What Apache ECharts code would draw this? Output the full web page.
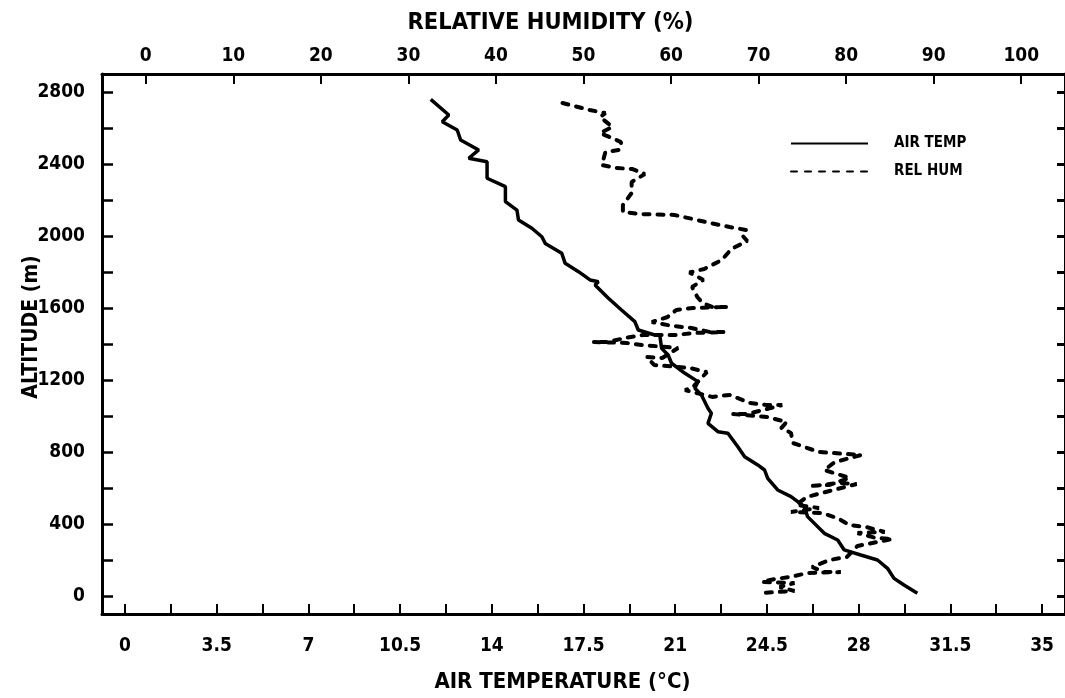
<!DOCTYPE html>
<html>
<head>
<meta charset="utf-8">
<script src="https://cdn.jsdelivr.net/npm/echarts@6/dist/echarts.min.js"></script>
<style>
html,body{margin:0;padding:0;background:#fff;}
#chart{width:1065px;height:698px;}
</style>
</head>
<body>
<div id="chart"></div>
<script>
// Air temperature profile (°C) vs altitude (m)
var tempValues = [11.67,12.36,12.11,12.68,12.81,13.50,13.12,13.82,13.82,14.52,14.52,14.96,15.02,15.53,15.91,16.04,16.67,16.80,17.31,17.75,18.07,17.94,18.45,18.95,19.46,19.59,20.22,20.41,20.48,20.73,20.86,21.37,21.87,21.75,22.00,22.25,22.38,22.25,22.63,23.01,23.39,23.65,24.15,24.41,24.53,24.91,25.42,25.93,26.05,26.69,27.20,27.45,28.08,28.72,29.10,29.35,29.73,30.24];
var tempAlt =    [2759,2672,2635,2589,2533,2478,2432,2413,2321,2274,2191,2144,2089,2043,1996,1959,1904,1848,1802,1756,1746,1728,1654,1589,1524,1478,1450,1450,1376,1339,1293,1237,1191,1154,1117,1043,1015,959,913,904,829,774,728,700,654,589,552,496,441,348,311,256,228,200,154,98,61,15];

// Relative humidity profile (%) vs altitude (m)
var rhValues = [47.6,50.7,52.5,51.9,53.3,51.9,54.3,54.1,52.5,52.1,53.8,55.6,57.0,55.5,55.5,54.5,54.5,56.4,60.4,64.5,66.7,68.6,68.2,68.7,66.9,65.8,63.8,62.1,63.7,62.4,63.0,63.6,64.7,66.5,62.5,60.6,59.6,57.8,60.2,62.3,64.4,66.1,62.5,60.6,56.8,54.7,52.8,51.1,54.9,56.8,60.8,59.0,57.2,58.1,62.1,64.1,62.5,61.6,64.7,66.7,69.0,70.9,72.7,68.7,67.0,71.0,73.2,72.6,73.7,73.9,76.9,81.7,78.7,77.5,80.4,78.1,75.8,77.3,79.2,81.2,77.2,75.5,74.3,76.9,73.7,77.2,79.0,80.4,82.3,84.4,81.3,83.4,85.3,81.3,80.1,78.1,76.1,77.5,79.4,75.6,73.7,71.8,70.4,74.1,72.4,74.1,70.4];
var rhAlt =    [2739,2700,2683,2661,2606,2572,2522,2478,2467,2394,2378,2372,2344,2300,2239,2172,2133,2122,2117,2072,2050,2033,2000,1972,1928,1867,1817,1797,1756,1717,1661,1628,1606,1606,1600,1589,1550,1522,1500,1489,1467,1467,1461,1450,1450,1433,1411,1411,1406,1394,1378,1322,1328,1283,1267,1244,1161,1144,1106,1117,1072,1061,1061,1011,1011,994,967,933,906,850,800,783,744,700,656,617,611,617,628,622,572,550,506,489,467,461,433,394,383,356,350,322,317,278,217,200,161,133,133,128,106,94,78,72,50,28,17];

// Tick positions / labels
var tempLabels = [0,3.5,7,10.5,14,17.5,21,24.5,28,31.5,35];
var tempTicks = [0,1.75,3.5,5.25,7,8.75,10.5,12.25,14,15.75,17.5,19.25,21,22.75,24.5,26.25,28,29.75,31.5,33.25,35];
var rhLabels = [0,10,20,30,40,50,60,70,80,90,100];
var altLabels = [0,400,800,1200,1600,2000,2400,2800];
var altTicks = [0,200,400,600,800,1000,1200,1400,1600,1800,2000,2200,2400,2600,2800];

function zip(a,b){var r=[];for(var i=0;i<a.length;i++){r.push([a[i],b[i]]);}return r;}
function plain(v){return String(v);}

var FONT = "'DejaVu Sans Condensed','Liberation Sans',Arial,sans-serif";
var lbl = {color:'#000',fontFamily:FONT,fontWeight:'bold',fontSize:19};
function ttl(size,pad){return {color:'#000',fontFamily:FONT,fontWeight:'bold',fontSize:size,padding:pad};}

var chart = echarts.init(document.getElementById('chart'),null,{renderer:'canvas'});
chart.setOption({
  animation:false,
  backgroundColor:'#fff',
  grid:{left:102,top:74,width:964,height:540,containLabel:false},
  legend:{
    orient:'vertical',left:785,top:131,itemWidth:77,itemHeight:16,itemGap:13,
    itemStyle:{opacity:0},
    textStyle:{color:'#000',fontFamily:FONT,fontWeight:'bold',fontSize:15,padding:[0,0,0,21]},
    data:['AIR TEMP','REL HUM']
  },
  xAxis:[{
    type:'value',position:'bottom',min:-0.875,max:35.875,
    name:'AIR TEMPERATURE (°C)',nameLocation:'middle',nameGap:57,nameMoveOverlap:false,
    nameTextStyle:ttl(22,[0,42,0,0]),
    axisLine:{show:true,onZero:false,lineStyle:{color:'#000',width:3}},
    axisTick:{show:true,inside:true,length:10,customValues:tempTicks,lineStyle:{color:'#000',width:2}},
    axisLabel:Object.assign({margin:23,customValues:tempLabels,formatter:plain},lbl),
    splitLine:{show:false}
  },{
    type:'value',position:'top',min:-5,max:105,
    name:'RELATIVE HUMIDITY (%)',nameLocation:'middle',nameGap:39,nameMoveOverlap:false,
    nameTextStyle:ttl(23.5,[0,66,0,0]),
    axisLine:{show:true,onZero:false,lineStyle:{color:'#000',width:3}},
    axisTick:{show:true,inside:true,length:10,customValues:rhLabels,lineStyle:{color:'#000',width:2}},
    axisLabel:Object.assign({margin:8,customValues:rhLabels,formatter:plain},lbl),
    splitLine:{show:false}
  }],
  yAxis:[{
    type:'value',position:'left',min:-100,max:2900,
    name:'ALTITUDE (m)',nameLocation:'middle',nameGap:60,nameRotate:90,nameMoveOverlap:false,
    nameTextStyle:ttl(21,[0,0,0,34]),
    axisLine:{show:true,onZero:false,lineStyle:{color:'#000',width:3}},
    axisTick:{show:true,inside:true,length:11,customValues:altTicks,lineStyle:{color:'#000',width:2.5}},
    axisLabel:Object.assign({margin:17,customValues:altLabels,formatter:plain},lbl),
    splitLine:{show:false}
  },{
    type:'value',position:'right',min:-100,max:2900,
    axisLine:{show:true,onZero:false,lineStyle:{color:'#000',width:3}},
    axisTick:{show:true,inside:true,length:8,customValues:altTicks,lineStyle:{color:'#000',width:3}},
    axisLabel:{show:false},
    splitLine:{show:false}
  }],
  series:[{
    name:'AIR TEMP',type:'line',xAxisIndex:0,yAxisIndex:0,
    data:zip(tempValues,tempAlt),
    symbol:'none',smooth:false,
    lineStyle:{color:'#000',width:3.5,type:'solid'},
    itemStyle:{color:'#000'}
  },{
    name:'REL HUM',type:'line',xAxisIndex:1,yAxisIndex:0,
    data:zip(rhValues,rhAlt),
    symbol:'none',smooth:false,
    lineStyle:{color:'#000',width:4,type:[6,8],cap:'round'},
    itemStyle:{color:'#000'}
  }]
});
</script>
</body>
</html>
